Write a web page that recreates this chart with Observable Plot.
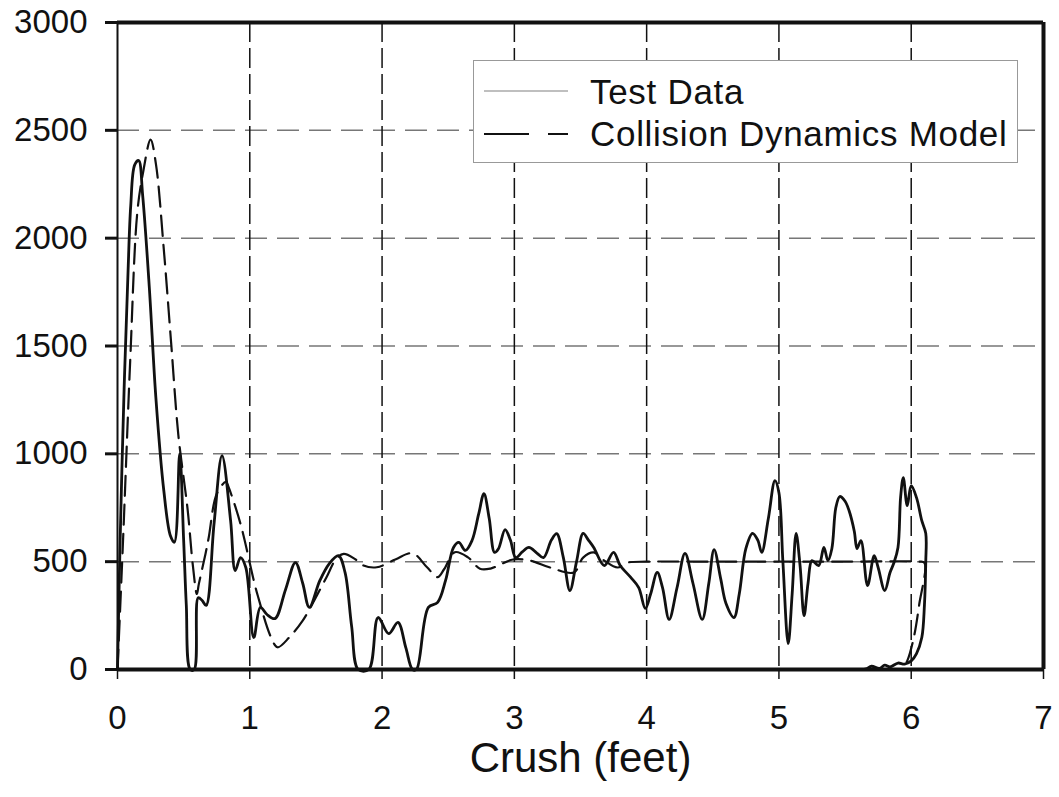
<!DOCTYPE html>
<html>
<head>
<meta charset="utf-8">
<script src="https://cdn.jsdelivr.net/npm/d3@7"></script>
<script src="https://cdn.jsdelivr.net/npm/@observablehq/plot@0.6"></script>
<style>
  html, body { margin: 0; padding: 0; background: #fff; }
  #wrap { position: relative; width: 1059px; height: 797px; font-family: "Liberation Sans", Arial, Helvetica, sans-serif; }
  #legend { position: absolute; left: 473px; top: 60px; width: 545px; height: 103px; background: #fff; border: 1.5px solid #999; box-sizing: border-box; }
  .row { position: absolute; left: 0; height: 40px; display: flex; align-items: center; }
  .row span { font-size: 35px; color: #111; margin-left: 12px; line-height: 1; letter-spacing: 0.7px; }
</style>
</head>
<body>
<div id="wrap"></div>
<script>
// Test Data (crush in feet, force)
const testX = [0.00,0.02,0.05,0.08,0.10,0.13,0.16,0.19,0.24,0.29,0.35,0.40,0.43,0.47,0.50,0.52,0.55,0.58,0.61,0.64,0.67,0.73,0.79,0.855,0.89,0.93,0.97,1.03,1.08,1.13,1.19,1.27,1.345,1.40,1.45,1.53,1.60,1.67,1.72,1.77,1.82,1.90,1.97,2.05,2.12,2.18,2.23,2.26,2.35,2.42,2.48,2.54,2.58,2.63,2.68,2.73,2.77,2.81,2.85,2.88,2.93,2.97,3.01,3.06,3.11,3.17,3.22,3.28,3.32,3.37,3.42,3.47,3.52,3.56,3.60,3.68,3.75,3.80,3.88,3.94,3.99,4.03,4.08,4.12,4.17,4.23,4.29,4.35,4.42,4.47,4.51,4.56,4.60,4.66,4.70,4.75,4.80,4.84,4.87,4.92,4.97,5.00,5.03,5.07,5.10,5.13,5.16,5.19,5.22,5.25,5.30,5.34,5.37,5.40,5.43,5.46,5.50,5.53,5.57,5.59,5.62,5.67,5.72,5.75,5.80,5.84,5.87,5.90,5.92,5.94,5.97,6.00,6.04,6.08,6.11,6.11,6.10,6.08,6.04,6.00,5.95,5.90,5.84,5.80,5.76,5.70,5.66,5.62];
const testY = [0,600,1300,1850,2150,2340,2360,2200,1776,1261,830,620,590,1000,600,300,0,0,333,320,297,677,992,690,459,519,473,148,288,255,236,370,496,400,288,413,490,528,450,200,0,0,241,166,218,100,0,0,288,311,413,566,589,552,598,720,815,700,543,560,649,600,519,545,566,540,519,600,630,520,366,500,631,600,566,482,543,482,427,380,283,350,450,380,232,380,538,400,232,400,556,420,306,241,350,560,631,600,543,700,876,820,500,120,350,631,480,250,400,505,482,566,505,560,750,802,780,737,640,561,598,389,528,473,366,450,496,566,800,890,760,853,797,690,631,500,300,148,74,40,25,30,12,20,5,15,3,0];

// Collision Dynamics Model
const modelX = [0.00,0.04,0.096,0.15,0.195,0.25,0.29,0.35,0.405,0.46,0.53,0.57,0.60,0.615,0.665,0.69,0.75,0.82,0.84,0.93,1.03,1.06,1.16,1.21,1.30,1.40,1.46,1.58,1.65,1.71,1.80,1.86,1.96,2.10,2.23,2.34,2.42,2.47,2.55,2.65,2.74,2.82,2.99,3.12,3.27,3.45,3.52,3.60,3.68,3.78,3.85,4.00,4.50,5.00,5.50,6.05,6.10,6.06,6.02,5.97,5.93];
const modelY = [0,570,1432,2121,2310,2457,2346,1948,1518,1087,742,480,350,397,536,613,814,870,845,675,413,343,150,103,150,227,289,428,510,536,510,482,474,510,539,474,428,466,544,520,467,468,510,505,473,450,519,543,505,473,495,500,500,500,500,500,495,300,150,40,0];

const xTicks = [0,1,2,3,4,5,6,7];
const yTicks = [0,500,1000,1500,2000,2500,3000];
const xGrid = [1,2,3,4,5,6];
const yGrid = [500,1000,1500,2000,2500];
const xLabel = "Crush (feet)";
const seriesNames = ["Test Data", "Collision Dynamics Model"];

const test = testX.map((x, i) => ({x, y: testY[i]}));
const model = modelX.map((x, i) => ({x, y: modelY[i]}));

const chart = Plot.plot({
  width: 1059,
  height: 797,
  marginLeft: 117,
  marginRight: 16,
  marginTop: 22,
  marginBottom: 128,
  style: {fontFamily: "'Liberation Sans', Arial, Helvetica, sans-serif", color: "#111", background: "#fff"},
  x: {domain: [0, 7]},
  y: {domain: [0, 3000]},
  marks: [
    Plot.ruleY(yGrid, {stroke: "#777", strokeWidth: 1.5, strokeDasharray: "22,10"}),
    Plot.ruleX(xGrid, {stroke: "#111", strokeWidth: 1.5, strokeDasharray: "20,6"}),
    Plot.line(model, {x: "x", y: "y", stroke: "#111", strokeWidth: 2.2, strokeDasharray: "20,9", curve: "catmull-rom"}),
    Plot.line(test, {x: "x", y: "y", stroke: "#111", strokeWidth: 2.8, curve: "catmull-rom"}),
    Plot.ruleX([0], {stroke: "#111", strokeWidth: 2}),
    Plot.ruleX([7], {stroke: "#111", strokeWidth: 4}),
    Plot.ruleY([3000], {stroke: "#111", strokeWidth: 4}),
    Plot.ruleY([0], {stroke: "#111", strokeWidth: 4}),
    Plot.axisY(yTicks, {tickSize: 12, tickPadding: 18, fontSize: 33, strokeWidth: 3, label: null, tickFormat: d => String(d)}),
    Plot.axisX(xTicks, {tickSize: 10, tickPadding: 26, fontSize: 33, strokeWidth: 1.5, label: null, tickFormat: d => String(d)}),
    Plot.text([xLabel], {frameAnchor: "bottom", lineAnchor: "middle", dy: 89, fontSize: 42, fill: "#111"})
  ]
});

const wrap = document.getElementById("wrap");
wrap.appendChild(chart);

const legend = document.createElement("div");
legend.id = "legend";
legend.innerHTML = `
  <div class="row" style="top:10px;">
    <svg width="96" height="40" style="margin-left:8px"><line x1="2" x2="86" y1="20" y2="20" stroke="#aaa" stroke-width="1.5"/></svg>
    <span>${seriesNames[0]}</span>
  </div>
  <div class="row" style="top:52px;">
    <svg width="96" height="40" style="margin-left:8px"><line x1="2" x2="86" y1="21" y2="21" stroke="#111" stroke-width="2.2" stroke-dasharray="45,19,20,20"/></svg>
    <span>${seriesNames[1]}</span>
  </div>`;
wrap.appendChild(legend);
</script>
</body>
</html>
